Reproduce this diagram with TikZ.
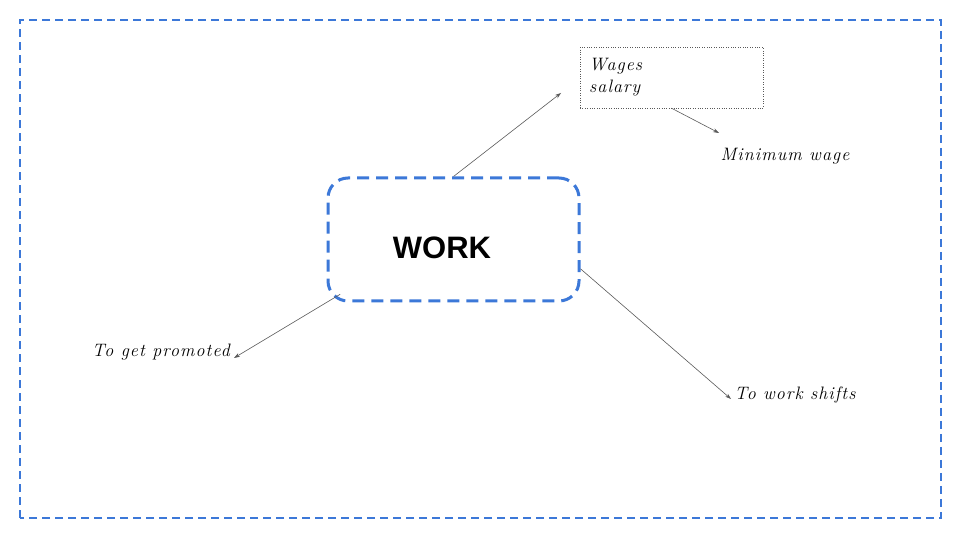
\documentclass[tikz,border=0pt]{standalone}
\usepackage{fontspec}
\usepackage{tikz}
\usetikzlibrary{arrows.meta, positioning}
\newfontfamily\titlefont{Liberation Sans}
\newfontfamily\handfont[LetterSpace=6]{Latin Modern Roman}
\definecolor{FrameBlue}{HTML}{3C78D8}
\definecolor{LinkGray}{HTML}{595959}
\tikzset{
  framebox/.style={rectangle, draw=FrameBlue, line width=2pt, dash pattern=on 8pt off 5pt},
  mainbox/.style={rectangle, rounded corners=20pt, draw=FrameBlue, line width=3pt, dash pattern=on 12pt off 7pt, minimum width=251pt, minimum height=123pt, inner sep=0pt},
  titletext/.style={font=\titlefont\bfseries\fontsize{31}{36}\selectfont, inner sep=0pt},
  notebox/.style={rectangle, draw=LinkGray, dotted, thin, minimum width=183pt, minimum height=61pt, inner sep=0pt},
  handtext/.style={font=\handfont\itshape\fontsize{18}{22}\selectfont, align=left, inner sep=0pt},
  link/.style={-{Stealth[length=6pt,width=4pt]}, LinkGray, line width=0.6pt}
}
\begin{document}
\begin{tikzpicture}[x=1pt, y=1pt]
  \useasboundingbox (0,0) rectangle (960,540);
  \draw[framebox] (20,22) rectangle (941,520);

  \node[mainbox] (work) at (453.5,300.5) {};
  \node[titletext] (worktext) at (442,292) {WORK};

  \node[notebox] (pay) at (671.5,462.5) {};
  \node[handtext, anchor=north west] (wages) at (589,482) {Wages\\salary};

  \node[handtext] (minwage) at (785,384) {Minimum wage};
  \node[handtext] (promoted) at (161,188) {To get promoted};
  \node[handtext] (shifts) at (795,145) {To work shifts};

  \coordinate (payend) at (561,447);
  \coordinate (minend) at (719,407);
  \coordinate (promend) at (234,182);
  \coordinate (shiftend) at (731,141);

  \draw[link] (work.north) -- (payend);
  \draw[link] (pay.south) -- (minend);
  \draw[link, shorten <=-16pt] (work.south west) -- (promend);
  \draw[link] (work.-13.6) -- (shiftend);
\end{tikzpicture}
\end{document}
